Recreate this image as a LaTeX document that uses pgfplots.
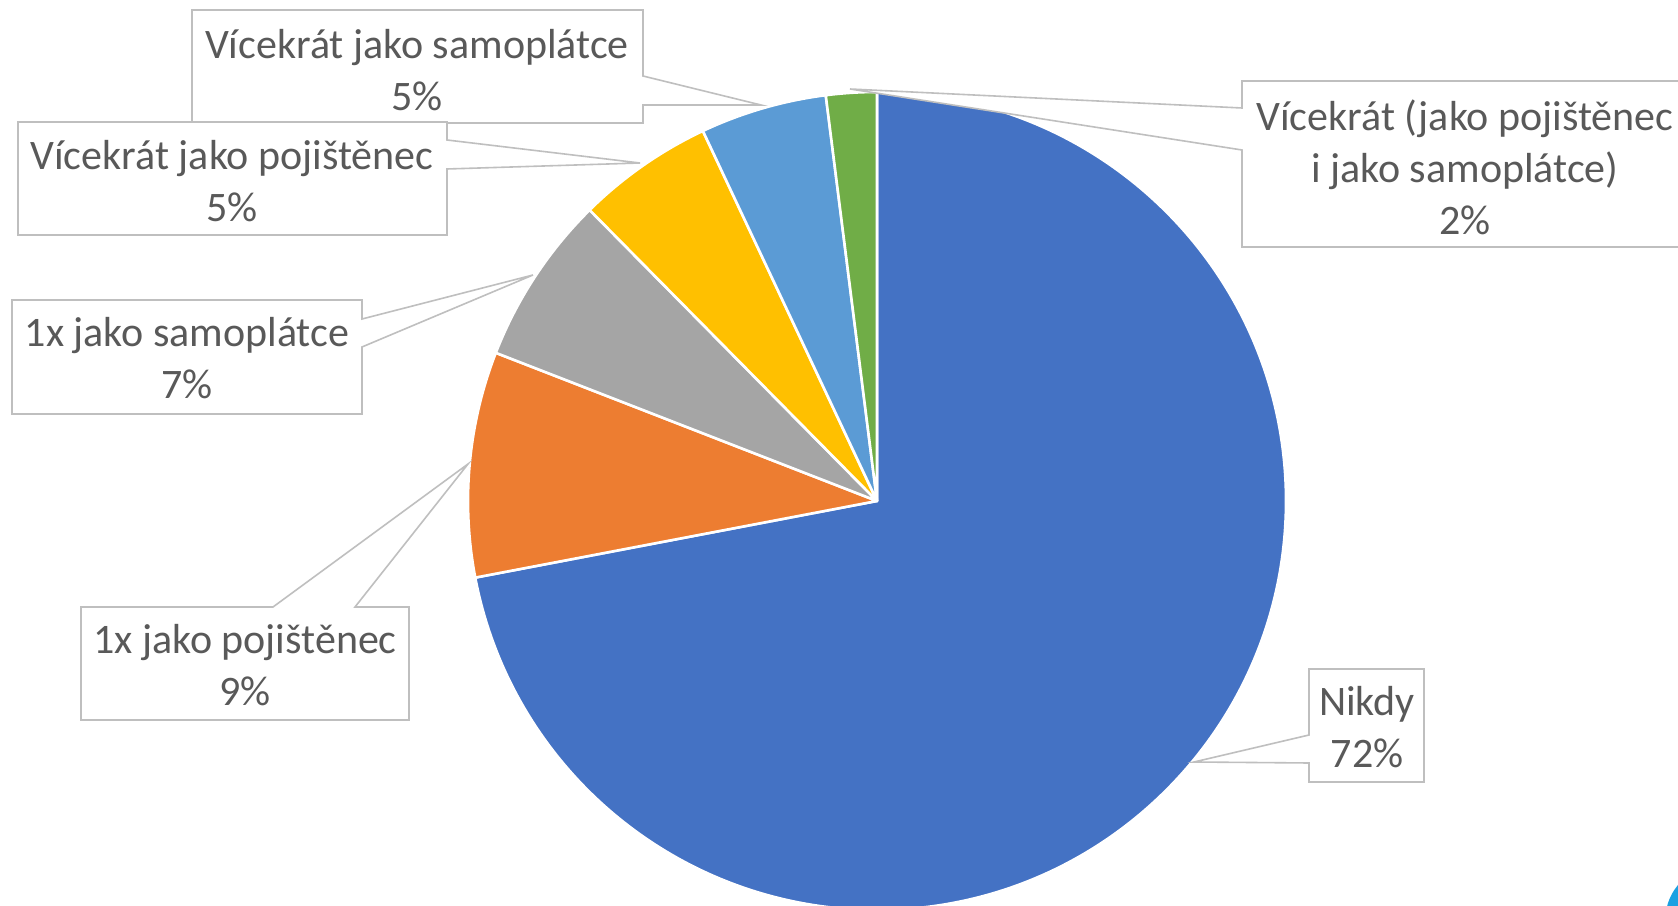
\documentclass[border=0pt]{standalone}
\usepackage{pgfplots}
\pgfplotsset{compat=1.18}
\usepackage{pgfplotstable}
\usepackage{fontspec}
\setmainfont{Carlito}

\definecolor{cBlue}{HTML}{4472C4}
\definecolor{cOrange}{HTML}{ED7D31}
\definecolor{cGray}{HTML}{A5A5A5}
\definecolor{cGold}{HTML}{FFC000}
\definecolor{cLBlue}{HTML}{5B9BD5}
\definecolor{cGreen}{HTML}{70AD47}
\definecolor{lbl}{HTML}{595959}
\definecolor{frm}{HTML}{BFBFBF}
\definecolor{logo}{HTML}{1BA1E2}

% shares in percent, clockwise from 12 o'clock
\pgfplotstableread{
share
72.0
8.9
6.7
5.4
5.0
2.0
}\piedata

\begin{document}
\begin{tikzpicture}
% cumulative angles (start at 90 deg, clockwise)
\def\angle{90}
\foreach \i in {0,...,5}{
  \pgfplotstablegetelem{\i}{share}\of\piedata
  \pgfmathsetmacro{\next}{\angle-3.6*\pgfplotsretval}
  \expandafter\xdef\csname aS\i\endcsname{\angle}
  \expandafter\xdef\csname aE\i\endcsname{\next}
  \xdef\angle{\next}
}
\def\R{204.5pt}
\begin{axis}[
    hide axis,
    x=0.5pt, y=0.5pt,
    xmin=0, xmax=1678, ymin=0, ymax=906,
    clip=true,
  ]
  % pie slices
  \tikzset{slice/.style={draw=white, line width=1.3pt, line join=round}}
  \fill[cBlue,   slice] (axis cs:877,405) -- ++(\csname aS0\endcsname:\R) arc[start angle=\csname aS0\endcsname, end angle=\csname aE0\endcsname, radius=\R] -- cycle;
  \fill[cOrange, slice] (axis cs:877,405) -- ++(\csname aS1\endcsname:\R) arc[start angle=\csname aS1\endcsname, end angle=\csname aE1\endcsname, radius=\R] -- cycle;
  \fill[cGray,   slice] (axis cs:877,405) -- ++(\csname aS2\endcsname:\R) arc[start angle=\csname aS2\endcsname, end angle=\csname aE2\endcsname, radius=\R] -- cycle;
  \fill[cGold,   slice] (axis cs:877,405) -- ++(\csname aS3\endcsname:\R) arc[start angle=\csname aS3\endcsname, end angle=\csname aE3\endcsname, radius=\R] -- cycle;
  \fill[cLBlue,  slice] (axis cs:877,405) -- ++(\csname aS4\endcsname:\R) arc[start angle=\csname aS4\endcsname, end angle=\csname aE4\endcsname, radius=\R] -- cycle;
  \fill[cGreen,  slice] (axis cs:877,405) -- ++(\csname aS5\endcsname:\R) arc[start angle=\csname aS5\endcsname, end angle=\csname aE5\endcsname, radius=\R] -- cycle;

  % callouts
  \tikzset{callout/.style={draw=frm, fill=white, line width=0.8pt, line join=miter}}
  \draw[callout] (axis cs:192,896) -- (axis cs:643,896) -- (axis cs:643,830) -- (axis cs:761,801)
    -- (axis cs:643,801) -- (axis cs:643,783) -- (axis cs:192,783) -- cycle;
  \draw[callout] (axis cs:18,784) -- (axis cs:447,784) -- (axis cs:447,766) -- (axis cs:640,743)
    -- (axis cs:447,737) -- (axis cs:447,671) -- (axis cs:18,671) -- cycle;
  \draw[callout] (axis cs:12,606) -- (axis cs:362,606) -- (axis cs:362,587) -- (axis cs:533,631)
    -- (axis cs:362,559) -- (axis cs:362,492) -- (axis cs:12,492) -- cycle;
  \draw[callout] (axis cs:81,299) -- (axis cs:273,299) -- (axis cs:468,442) -- (axis cs:355,299)
    -- (axis cs:409,299) -- (axis cs:409,186) -- (axis cs:81,186) -- cycle;
  \draw[callout] (axis cs:1309,237) -- (axis cs:1424,237) -- (axis cs:1424,124) -- (axis cs:1309,124)
    -- (axis cs:1309,143) -- (axis cs:1194,144) -- (axis cs:1309,171) -- cycle;
  \draw[callout] (axis cs:1242,825) -- (axis cs:1720,825) -- (axis cs:1720,659) -- (axis cs:1242,659)
    -- (axis cs:1242,756) -- (axis cs:850,817) -- (axis cs:1242,798) -- cycle;

  \tikzset{lab/.style={align=center, text=lbl, inner sep=0pt, font=\fontsize{21}{26}\selectfont}}
  \node[lab] at (axis cs:417,836) {Vícekrát jako samoplátce\\5\%};
  \node[lab] at (axis cs:232,725) {Vícekrát jako pojištěnec\\5\%};
  \node[lab] at (axis cs:187,548) {1x jako samoplátce\\7\%};
  \node[lab] at (axis cs:245,241) {1x jako pojištěnec\\9\%};
  \node[lab] at (axis cs:1367,179) {Nikdy\\72\%};
  \node[lab] at (axis cs:1465,739) {Vícekrát (jako pojištěnec\\i jako samoplátce)\\2\%};

  % logo corner
  \fill[logo] (axis cs:1720,-14) circle (27.35pt);
\end{axis}
\pgfresetboundingbox
\useasboundingbox (current axis.south west) rectangle (current axis.north east);
\end{tikzpicture}
\end{document}
